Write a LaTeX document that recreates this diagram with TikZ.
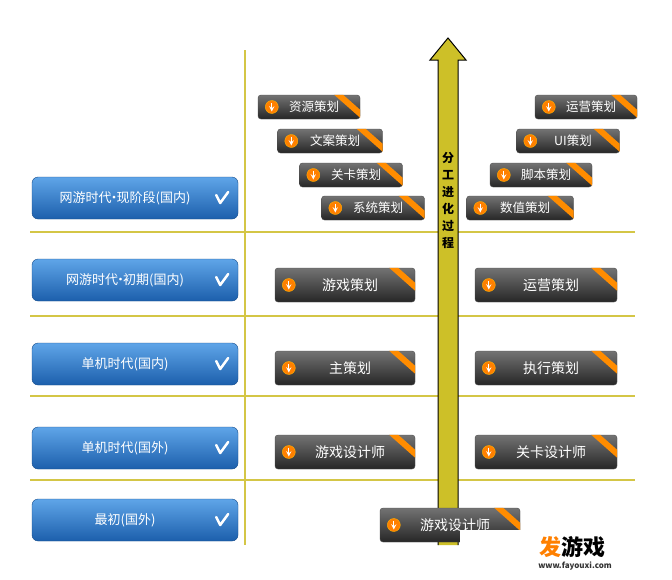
\documentclass[tikz,border=0pt]{standalone}
\usepackage{fontspec}
\setmainfont{Noto Sans CJK SC}
\usetikzlibrary{calc}

\definecolor{ruleyellow}{RGB}{212,198,70}
\definecolor{arrowyellow}{RGB}{205,192,40}
\definecolor{blueTop}{RGB}{95,165,232}
\definecolor{blueBot}{RGB}{28,95,172}
\newcommand{\mdot}{\kern-4pt·\kern-4pt}

\tikzset{
  rule/.style={draw=ruleyellow, line width=2.5pt},
  erabtn/.style={rounded corners=6pt, top color=blueTop, bottom color=blueBot,
    draw=blueBot!80!black, minimum width=206pt, minimum height=42pt, text=white, font=\fontsize{13}{13}\selectfont},
  rolebtn/.style={rounded corners=3pt, top color=black!55, bottom color=black!85, draw=black!70,
    minimum height=34pt, text=white, font=\fontsize{14}{14}\selectfont},
  smallbtn/.style={rolebtn, minimum height=24pt, font=\fontsize{12.5}{12.5}\selectfont},
  stripe/.style={fill=orange!90!yellow},
  icon/.style={circle, fill=orange, draw=orange!60!yellow, inner sep=0pt, minimum size=13pt},
  tick/.style={draw=white, line width=2.5pt, line cap=round, line join=round},
}

% dark button with icon and corner stripe
\newcommand{\rolebox}[6]{% name, style, x, y, width, text
  \node[#2, minimum width=#5pt] (#1) at (#3,#4) {\hspace*{10pt}#6};
  \fill[stripe] ($(#1.north east)+(-26,0)$) -- ++(9,0) -- ($(#1.north east)+(0,15)$) -- ++(0,8) -- cycle;
  \node[icon] (#1-i) at ($(#1.west)+(14,0)$) {};
  \draw[white, line width=1.3pt, -stealth] ($(#1-i)+(0,-4)$) -- ($(#1-i)+(0,4.5)$);
}

\begin{document}
\begin{tikzpicture}[x=1pt, y=-1pt]
  \useasboundingbox[fill=white] (0,0) rectangle (672,579);

  % grid
  \draw[rule] (245,50) -- (245,545);
  \foreach \y in {232,316,396,480}
    \draw[rule] (30,\y) -- (635,\y);

  % arrow
  \fill[arrowyellow, draw=black, line width=1pt] (438,545) -- (438,60) -- (430,60) -- (448,38) -- (466,60) -- (458,60) -- (458,545);
  \node[font=\fontsize{12}{17}\selectfont\bfseries, align=center] (flow) at (448,200) {分\\工\\进\\化\\过\\程};

  % eras
  \foreach \t/\y/\n in {网游时代\mdot 现阶段(国内)/198/e1, 网游时代\mdot 初期(国内)/280/e2, 单机时代(国内)/364/e3, 单机时代(国外)/448/e4, 最初(国外)/520/e5} {
    \node[erabtn] (\n) at (135,\y) {\hspace*{-20pt}\t};
    \draw[tick] ($(\n.east)+(-22,-3)$) -- ($(\n.east)+(-18,5)$) -- ($(\n.east)+(-10,-6)$);
  }

  % current stage
  \rolebox{r1}{smallbtn}{309}{107}{102}{资源策划}
  \rolebox{r2}{smallbtn}{330}{141}{105}{文案策划}
  \rolebox{r3}{smallbtn}{351}{175}{103}{关卡策划}
  \rolebox{r4}{smallbtn}{373}{208}{103}{系统策划}
  \rolebox{r5}{smallbtn}{586}{107}{102}{运营策划}
  \rolebox{r6}{smallbtn}{568}{141}{103}{UI策划}
  \rolebox{r7}{smallbtn}{541}{175}{102}{脚本策划}
  \rolebox{r8}{smallbtn}{520}{208}{107}{数值策划}

  % earlier stages
  \rolebox{g1}{rolebtn}{345}{285}{140}{游戏策划}
  \rolebox{g2}{rolebtn}{546}{285}{142}{运营策划}
  \rolebox{g3}{rolebtn}{345}{368}{140}{主策划}
  \rolebox{g4}{rolebtn}{546}{368}{142}{执行策划}
  \rolebox{g5}{rolebtn}{345}{452}{140}{游戏设计师}
  \rolebox{g6}{rolebtn}{546}{452}{142}{关卡设计师}
  \rolebox{g7}{rolebtn}{450}{525}{140}{游戏设计师}

  % watermark
  \fill[white] (460,530) rectangle (625,579);
  \node[font=\fontsize{22}{22}\selectfont\bfseries] (wm) at (572,547) {\textcolor{orange}{发}游戏};
  \node[font=\fontsize{8}{8}\selectfont\bfseries, text=black!80] (url) at (575,566) {www.fayouxi.com};
\end{tikzpicture}
\end{document}
